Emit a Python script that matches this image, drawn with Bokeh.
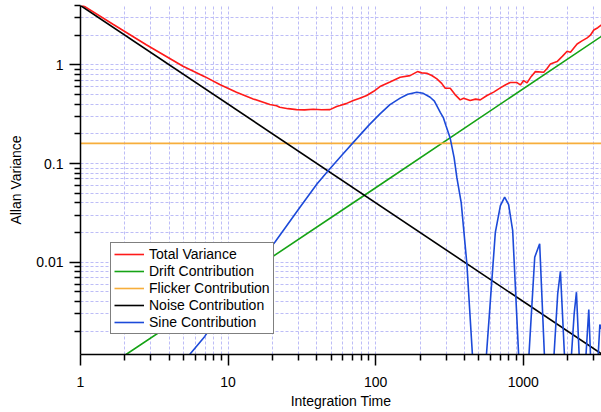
from bokeh.plotting import figure
from bokeh.models import (FixedTicker, CustomJSTickFormatter, Legend, LegendItem,
                          Range1d)
from bokeh.embed import file_html
from bokeh.resources import INLINE

# ---------------- data ----------------
total_tau = [1.0, 1.66, 2.79, 4.95, 6.95, 8.78, 11.4, 14.8, 19.2, 21.3, 22.4, 25.5,
             29.1, 33, 37.8, 43, 49.0, 54.4, 57.3, 63, 70.6, 78, 87.0, 97, 107, 125,
             146.5, 171, 192, 205, 222, 240, 260, 280, 296, 320, 345, 374, 394, 437,
             475, 511, 568, 630, 699, 760, 817, 907, 956, 1006, 1061, 1130, 1208,
             1376, 1450, 1528, 1695, 1840, 1982, 2088, 2317, 2500, 2711, 2850, 3006,
             3200, 3390]
total_val = [4.15, 2.58, 1.6, 0.97, 0.76, 0.632, 0.528, 0.452, 0.396, 0.386, 0.372,
             0.36, 0.352, 0.35, 0.355, 0.351, 0.352, 0.378, 0.387, 0.405, 0.435, 0.46,
             0.489, 0.54, 0.603, 0.67, 0.749, 0.779, 0.855, 0.83, 0.822, 0.78, 0.721,
             0.65, 0.579, 0.579, 0.5, 0.442, 0.459, 0.435, 0.45, 0.442, 0.489, 0.53,
             0.585, 0.63, 0.662, 0.662, 0.627, 0.693, 0.657, 0.76, 0.855, 0.841, 0.92,
             1.02, 1.08, 1.22, 1.373, 1.342, 1.63, 1.75, 1.88, 2.0, 2.26, 2.38, 2.55]

drift_tau = [2.0, 84, 3390]
drift_val = [0.00114, 0.0477, 1.95]

flicker_tau = [1.0, 3390]
flicker_val = [0.16, 0.16]

noise_tau = [1.0, 3390]
noise_val = [4.0, 0.00118]

sine_tau = [5.0, 6.95, 10, 14, 20.8, 30.7, 40, 47.8, 60, 70.6, 90, 107, 125, 146.5,
            165, 190, 210, 234, 250, 274, 288, 300, 320, 340, 355, 380, 415, 500,
            647, 700, 748, 796, 848, 1000, 1196, 1292, 1480, 1712, 1786, 1992, 2213,
            2293, 2500, 2780, 3000, 3304, 3390]
sine_val = [0.00098, 0.00177, 0.0039, 0.0077, 0.016, 0.0361, 0.062, 0.0849, 0.125,
            0.164, 0.245, 0.319, 0.395, 0.46, 0.505, 0.528, 0.515, 0.47, 0.43, 0.33,
            0.29, 0.24, 0.18, 0.115, 0.072, 0.04, 0.0096, 0.0001, 0.0201, 0.0375,
            0.0456, 0.0384, 0.0209, 0.00012, 0.01124, 0.01536, 0.00013, 0.00479,
            0.0081, 0.00027, 0.0030, 0.00497, 0.00025, 0.00332, 0.00016, 0.00234,
            0.0021]

x_major = [1, 10, 100, 1000]
y_major = [0.01, 0.1, 1]

FONT = "Liberation Sans"
GRID = "#bdbdf7"

# ---------------- figure ----------------
p = figure(width=601, height=412, x_axis_type="log", y_axis_type="log",
           x_range=Range1d(1, 3390), y_range=Range1d(0.00116, 4.0),
           output_backend="svg", toolbar_location=None,
           min_border_left=80, min_border_right=0, min_border_top=5,
           min_border_bottom=58)
p.outline_line_color = None
p.background_fill_color = "white"
p.border_fill_color = "white"

x_minor = [m * 10 ** e for e in range(0, 4) for m in range(2, 10) if m * 10 ** e <= 3390]
y_minor = [round(m * 10.0 ** e, 6) for e in range(-3, 1) for m in range(2, 10)]
xt = FixedTicker(ticks=x_major, minor_ticks=x_minor)
yt = FixedTicker(ticks=y_major, minor_ticks=y_minor)
p.xaxis.ticker = xt
p.yaxis.ticker = yt
p.xgrid.ticker = xt
p.ygrid.ticker = yt
p.xaxis.formatter = CustomJSTickFormatter(code="return tick.toString();")
p.yaxis.formatter = CustomJSTickFormatter(code="return tick.toString();")

for g in (p.xgrid, p.ygrid):
    g.grid_line_color = GRID
    g.grid_line_dash = "3 2"
    g.grid_line_width = 1
    g.minor_grid_line_color = GRID
    g.minor_grid_line_dash = "3 2"
    g.minor_grid_line_width = 1

for ax in (p.xaxis, p.yaxis):
    ax.axis_line_width = 1.5
    ax.axis_line_color = "black"
    ax.major_tick_in = 0
    ax.major_tick_out = 11
    ax.minor_tick_in = 0
    ax.minor_tick_out = 6
    ax.major_tick_line_width = 1.5
    ax.minor_tick_line_width = 1.5
    ax.major_label_text_font = FONT
    ax.major_label_text_font_size = "14px"
    ax.major_label_text_color = "black"
    ax.axis_label_text_font = FONT
    ax.axis_label_text_font_size = "14px"
    ax.axis_label_text_font_style = "normal"
    ax.axis_label_text_color = "black"

p.xaxis.axis_label = "Integration Time"
p.yaxis.axis_label = "Allan Variance"
p.xaxis.major_label_standoff = 11
p.xaxis.axis_label_standoff = 3
p.yaxis.major_label_standoff = 6
p.yaxis.axis_label_standoff = 9

r_total = p.line(total_tau, total_val, line_color="#ff1a1a", line_width=1.6)
r_drift = p.line(drift_tau, drift_val, line_color="#16a316", line_width=1.6)
r_flick = p.line(flicker_tau, flicker_val, line_color="#f7ae3b", line_width=1.6)
r_noise = p.line(noise_tau, noise_val, line_color="black", line_width=1.6)
r_sine = p.line(sine_tau, sine_val, line_color="#1c4ad9", line_width=1.6)

legend = Legend(items=[
    LegendItem(label="Total Variance", renderers=[r_total]),
    LegendItem(label="Drift Contribution", renderers=[r_drift]),
    LegendItem(label="Flicker Contribution", renderers=[r_flick]),
    LegendItem(label="Noise Contribution", renderers=[r_noise]),
    LegendItem(label="Sine Contribution", renderers=[r_sine]),
], location=(30, 20))
legend.border_line_color = "black"
legend.border_line_width = 1.5
legend.background_fill_color = "white"
legend.background_fill_alpha = 1.0
legend.label_text_font = FONT
legend.label_text_font_size = "14px"
legend.label_text_color = "black"
legend.glyph_width = 30
legend.glyph_height = 16
legend.label_height = 16
legend.spacing = 1
legend.padding = 3
legend.margin = 0
legend.label_standoff = 5
p.add_layout(legend)

open("out.html", "w").write(file_html(p, INLINE))
